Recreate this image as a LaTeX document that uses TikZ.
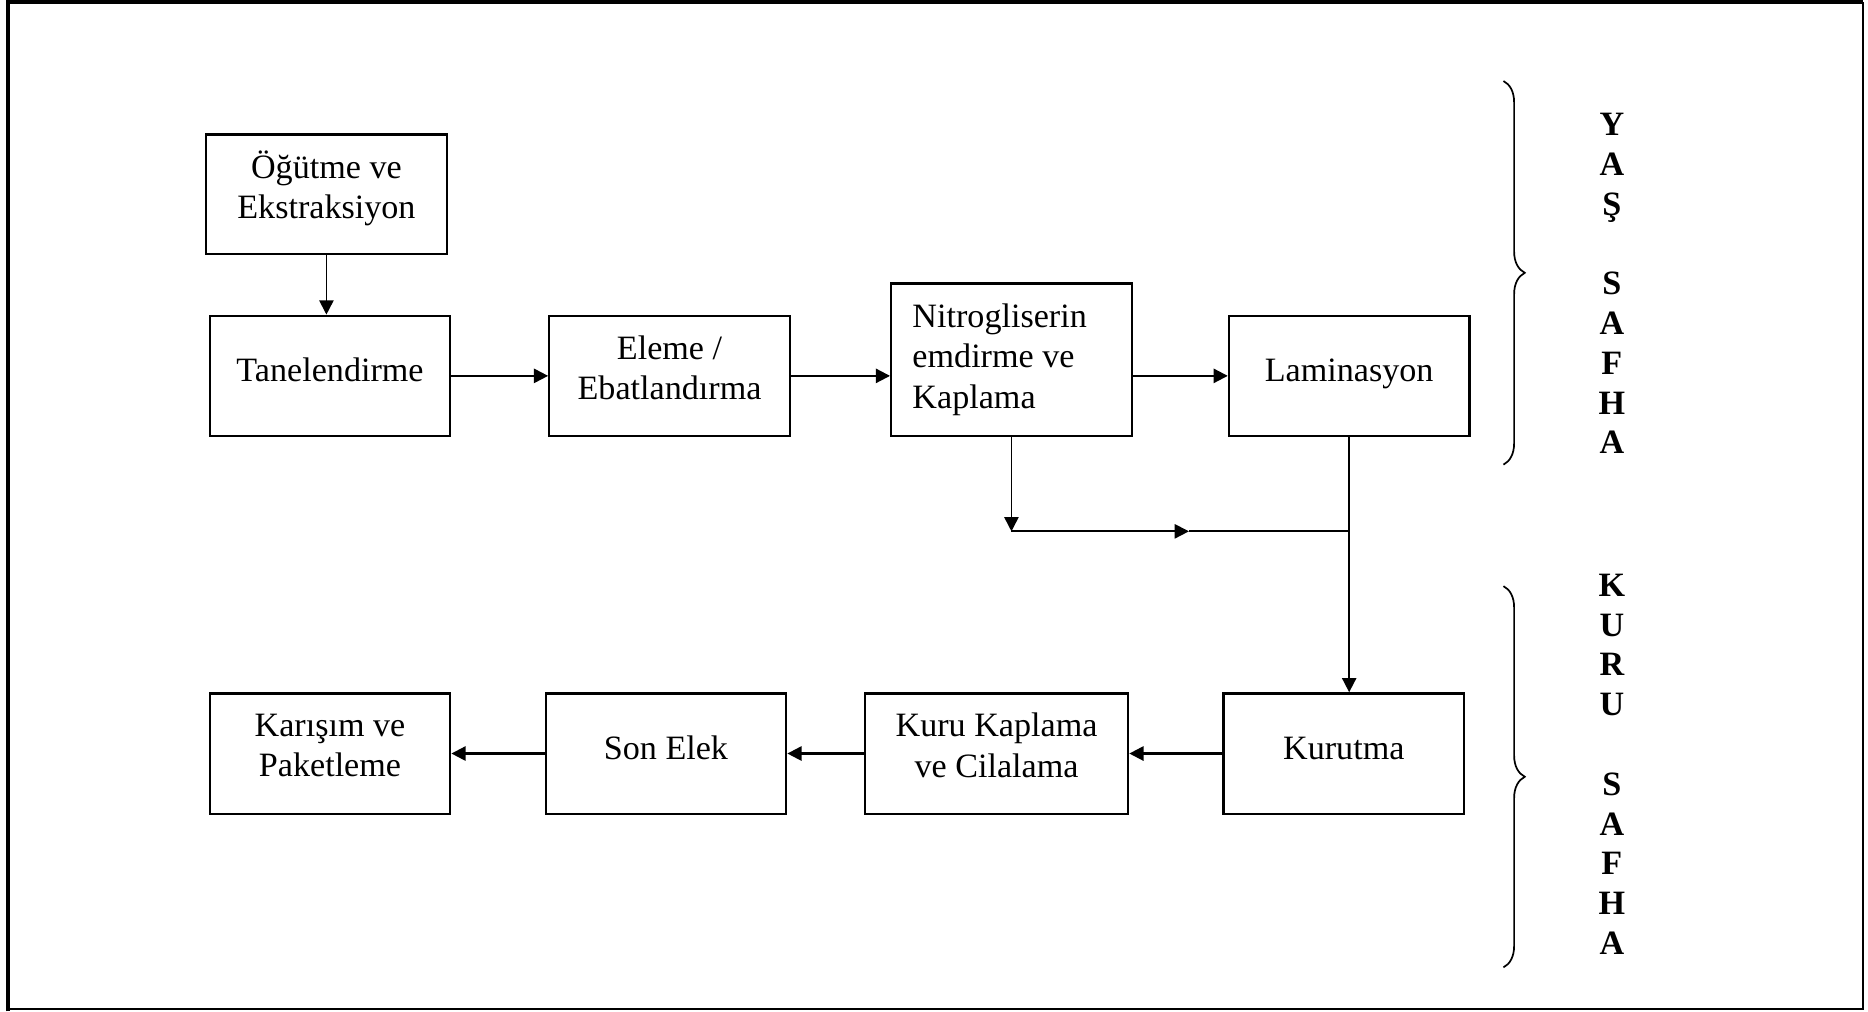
\documentclass[tikz,border=0pt]{standalone}
\usepackage{fontspec}
\setmainfont{Liberation Serif}
\usetikzlibrary{arrows.meta,decorations.pathreplacing}
\tikzset{
  >={Triangle[length=5pt, width=5pt]},
  stage/.style = {draw, rectangle, line width=0.8pt, align=center,
                  minimum width=84.6pt, minimum height=42.3pt,
                  font=\fontsize{12}{14.2}\selectfont},
  one line/.style = {stage, text depth=4.2pt},
  two lines/.style = {stage, text depth=5.9pt},
  flow/.style = {line width=0.75pt, ->},
  feed/.style = {semithick, ->},
  phase brace/.style = {decorate, semithick,
                  decoration={brace, amplitude=7.5pt}},
  phase/.style = {align=center, font=\bfseries\fontsize{12}{14}\selectfont},
}
\begin{document}
\begin{tikzpicture}[x=0.419pt, y=-0.419pt]
\useasboundingbox (0,0) rectangle (1568,849);
% frame
\draw[line width=1.5pt] (6.7,849) -- (6.7,1.6) -- (1564,1.6);
\draw[line width=0.6pt] (1563.8,1.6) -- (1563.8,847.2) -- (6.7,847.2);
% upper row
\node[two lines, minimum height=41.9pt, text depth=6.8pt] (ogut) at (274,163)
     {Öğütme ve\\Ekstraksiyon};
\node[one line] (tane) at (277,315.5) {Tanelendirme};
\node[two lines] (eleme) at (562,315.5) {Eleme /\\Ebatlandırma};
\node[stage, minimum height=53.6pt, align=flush left,
      text width=69.6pt, inner xsep=7.5pt] (nitro) at (849,302)
     {Nitrogliserin\\emdirme ve\\Kaplama};
\node[one line, text depth=4.3pt] (lamin) at (1132.5,315.5) {Laminasyon};
% lower row
\node[one line, text depth=3.4pt] (kurut) at (1128,632.5) {Kurutma};
\node[two lines, minimum width=92.6pt] (kkap) at (836.5,632.5) {Kuru Kaplama\\ve Cilalama};
\node[one line] (son) at (559,632.5) {Son Elek};
\node[two lines] (karis) at (277,632.5) {Karışım ve\\Paketleme};
% connectors
\draw[feed] (ogut.south) -- (ogut.south |- tane.north);
\draw[flow] (tane) -- (eleme);
\draw[flow] (eleme.east) -- (eleme.east -| nitro.west);
\draw[flow] (lamin.west -| nitro.east) -- (lamin.west);
\coordinate (split) at (nitro.south |- 0,446);
\coordinate (merge) at (lamin.south |- split);
\coordinate (mid) at (998,446);
\draw[feed] (nitro.south) -- (split);
\draw[feed] (split) -- (mid);
\draw[semithick] (mid) -- (merge);
\draw[feed] (lamin.south) -- (lamin.south |- kurut.north);
\draw[flow] (kurut) -- (kkap);
\draw[flow] (kkap) -- (son);
\draw[flow] (son) -- (karis);
% phases
\draw[phase brace] (1262,68) -- (1262,390);
\draw[phase brace] (1262,492) -- (1262,812);
\node[phase] (wet) at (1353,238) {Y\\A\\Ş\\[14pt]S\\A\\F\\H\\A};
\node[phase] (dry) at (1353,641.5) {K\\U\\R\\U\\[14pt]S\\A\\F\\H\\A};
\end{tikzpicture}
\end{document}
